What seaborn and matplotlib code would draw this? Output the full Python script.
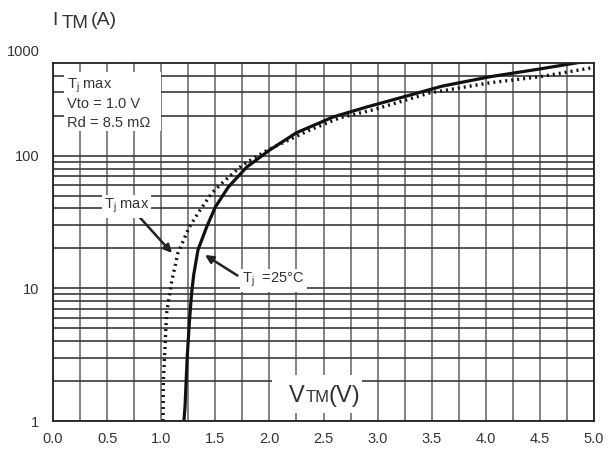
import numpy as np
import pandas as pd
import matplotlib
matplotlib.use("Agg")
import matplotlib.pyplot as plt
import seaborn as sns

# ---- data ----
v_25c = [1.21, 1.22, 1.24, 1.26, 1.28, 1.30, 1.34, 1.42, 1.50, 1.62, 1.79, 2.00, 2.25, 2.59, 2.90, 3.20, 3.60, 4.04, 4.50, 5.00]
i_25c = [1.0, 1.27, 3.0, 5.5, 9.0, 12.6, 19.5, 29, 41, 58, 82, 110, 149, 196, 233, 272, 335, 394, 451, 527]

v_tjmax = [1.017, 1.02, 1.05, 1.10, 1.155, 1.26, 1.36, 1.47, 1.57, 1.75, 1.98, 2.38, 2.65, 2.96, 3.48, 4.04, 4.50, 5.00]
i_tjmax = [1.0, 2.0, 6.5, 11.6, 18.5, 29, 39, 52.6, 63, 85, 110, 157, 193, 222, 297, 355, 394, 463]

x_ticks = [0.0, 0.5, 1.0, 1.5, 2.0, 2.5, 3.0, 3.5, 4.0, 4.5, 5.0]
y_ticks = [1, 10, 100]
y_tick_labels = ["1", "10", "100"]
top_label = "1000"

sns.set_style("white")
plt.rcParams["font.family"] = ["Liberation Sans", "DejaVu Sans"]
plt.rcParams["mathtext.fontset"] = "custom"
plt.rcParams["mathtext.rm"] = "Liberation Sans"
plt.rcParams["mathtext.it"] = "Liberation Sans"

TXT = "#333333"

fig = plt.figure(figsize=(6.09, 4.61), dpi=100)
ax = fig.add_axes([53 / 609, 40 / 461, 541 / 609, 358 / 461])

df25 = pd.DataFrame({"V": v_25c, "I": i_25c})
dfmax = pd.DataFrame({"V": v_tjmax, "I": i_tjmax})

ax.set_yscale("log")
ax.set_xlim(0, 5)
ax.set_ylim(1, 500)

# grid
ax.set_xticks(x_ticks)
ax.set_xticklabels([f"{t:.1f}" for t in x_ticks])
ax.set_xticks(np.arange(0, 5.001, 0.25), minor=True)
ax.set_yticks(y_ticks)
ax.set_yticklabels(y_tick_labels)
minor_y = [m * 10 ** k for k in range(3) for m in range(2, 10) if m * 10 ** k < 500]
ax.set_yticks(minor_y, minor=True)
ax.yaxis.set_minor_formatter(matplotlib.ticker.NullFormatter())
ax.grid(which="both", axis="x", color="#7a7a7a", lw=1.3)
ax.grid(which="both", axis="y", color="#3a3a3a", lw=1.2)
ax.tick_params(which="both", length=0)
ax.tick_params(axis="x", pad=8, labelsize=10.5, labelcolor=TXT)
ax.tick_params(axis="y", pad=10, labelsize=10.5, labelcolor=TXT)
for s in ax.spines.values():
    s.set_color("#222222")
    s.set_linewidth(1.3)

sns.lineplot(data=df25, x="V", y="I", ax=ax, color="#111111", lw=2.3, sort=False, estimator=None)
sns.lineplot(data=dfmax, x="V", y="I", ax=ax, color="#111111", lw=2.4, sort=False, estimator=None,
             linestyle=(0, (0.6, 1.2)))
ax.set_xlabel("")
ax.set_ylabel("")

def af(px, py):
    return ((px - 53) / 541, (421 - py) / 358)

# "1000" label above the top
ax.text(*af(40, 52), top_label, transform=ax.transAxes, ha="right", va="center",
        fontsize=10.5, color=TXT)

# y-axis title: I TM(A)
fig.text(52 / 609, 1 - 25 / 461, "I", fontsize=14, color=TXT, ha="left", va="baseline")
fig.text(62 / 609, 1 - 28 / 461, "TM", fontsize=13.5, color=TXT, ha="left", va="baseline")
fig.text(91 / 609, 1 - 25 / 461, "(A)", fontsize=14, color=TXT, ha="left", va="baseline")

# x-axis title box: VTM(V)
ax.add_patch(plt.Rectangle(af(272, 413), 90 / 541, 38 / 358, transform=ax.transAxes,
                           facecolor="white", edgecolor="none", zorder=4))
ax.text(*af(289, 402), "V", transform=ax.transAxes, fontsize=17, color=TXT, zorder=5, va="baseline")
ax.text(*af(306, 402), "TM", transform=ax.transAxes, fontsize=12, color=TXT, zorder=5, va="baseline")
ax.text(*af(329, 402), "(V)", transform=ax.transAxes, fontsize=17, color=TXT, zorder=5, va="baseline")

# parameter box
ax.add_patch(plt.Rectangle(af(64, 131), 97 / 541, 59 / 358, transform=ax.transAxes,
                           facecolor="white", edgecolor="none", zorder=4))
ax.text(*af(67, 89), r"T$_\mathregular{j}$ max", transform=ax.transAxes, fontsize=10.5,
        color=TXT, zorder=5, va="baseline")
ax.text(*af(67, 108), "Vto = 1.0 V", transform=ax.transAxes, fontsize=10.5,
        color=TXT, zorder=5, va="baseline")
ax.text(*af(67, 127), "Rd = 8.5 m\u03a9", transform=ax.transAxes, fontsize=10.5,
        color=TXT, zorder=5, va="baseline")

# arrow annotations
ax.annotate(r"T$_\mathregular{j}$ max", xy=af(172, 253), xycoords="axes fraction",
            xytext=af(104, 209), textcoords="axes fraction", fontsize=10.5, color=TXT,
            va="baseline", zorder=5,
            bbox=dict(boxstyle="square,pad=0.15", fc="white", ec="none"),
            arrowprops=dict(arrowstyle="-|>", color="#222222", lw=1.8, mutation_scale=12,
                            shrinkA=0, shrinkB=0, relpos=(0.75, 0.0)))
ax.annotate(r"T$_\mathregular{j}$  =25°C", xy=af(205, 255), xycoords="axes fraction",
            xytext=af(242, 283), textcoords="axes fraction", fontsize=10.5, color=TXT,
            va="baseline", zorder=5,
            bbox=dict(boxstyle="square,pad=0.15", fc="white", ec="none"),
            arrowprops=dict(arrowstyle="-|>", color="#222222", lw=1.8, mutation_scale=12,
                            shrinkA=2, shrinkB=0, relpos=(0.0, 0.6)))

fig.savefig("out.png", dpi=100)
